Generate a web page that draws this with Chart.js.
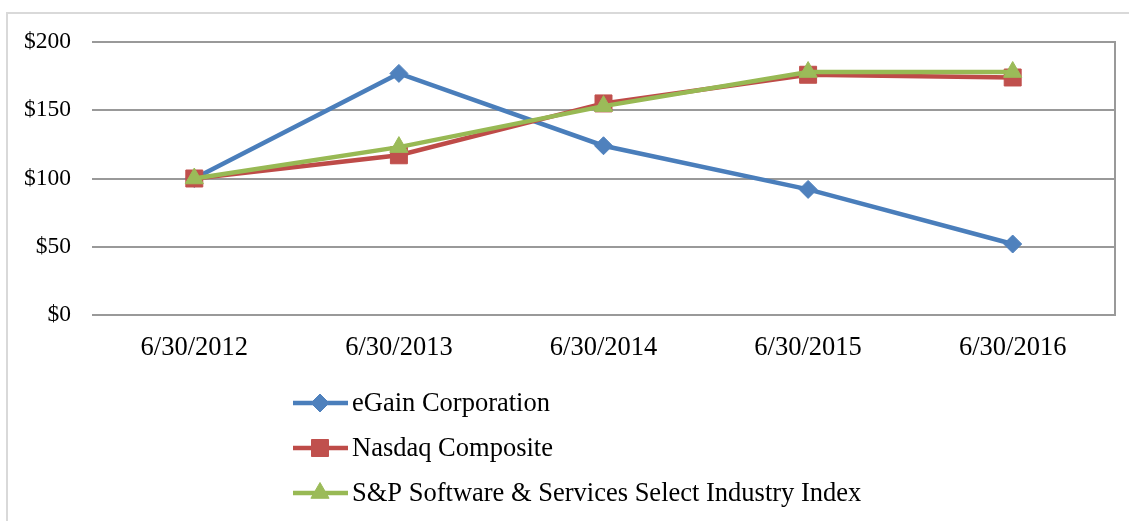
<!DOCTYPE html>
<html lang="en">
<head>
<meta charset="utf-8">
<title>eGain Corporation</title>
<script src="https://cdn.jsdelivr.net/npm/chart.js@4.4.1/dist/chart.umd.min.js"></script>
<style>
	html, body { margin: 0; padding: 0; background: #fff; overflow: hidden; }
	#cadre { position: absolute; left: 6px; top: 12px; width: 1200px; height: 600px; border-left: 2px solid #d9d9d9; border-top: 2px solid #d9d9d9; }
	#graphique { position: absolute; left: 0; top: 0; }
</style>
</head>
<body>
<div id="cadre"></div>
<canvas id="graphique" width="1129" height="521"></canvas>
<script>
const categories = ["6/30/2012", "6/30/2013", "6/30/2014", "6/30/2015", "6/30/2016"];
const egain = [100, 177, 124, 92, 52];
const nasdaq = [100, 117, 155, 176, 174];
const sp = [100, 123, 153, 178, 178];
const nomsSeries = ["eGain Corporation", "Nasdaq Composite", "S&P Software & Services Select Industry Index"];
const ticksY = [0, 50, 100, 150, 200];

const police = "'Liberation Serif', 'Times New Roman', serif";

// legende en colonne sous le graphique
const legendeVerticale = {
	id: "legendeVerticale",
	afterDraw(chart) {
		const ctx = chart.ctx;
		const zone = chart.chartArea;
		// bordure droite du trace
		ctx.save();
		ctx.strokeStyle = "#999999";
		ctx.lineWidth = 2;
		ctx.beginPath();
		ctx.moveTo(zone.right, zone.top - 1);
		ctx.lineTo(zone.right, zone.bottom + 1);
		ctx.stroke();
		ctx.restore();

		const x0 = zone.left + 201;
		const y0 = zone.bottom + 88;
		chart.data.datasets.forEach((ds, i) => {
			const y = y0 + i * 45;
			ctx.save();
			ctx.strokeStyle = ds.borderColor;
			ctx.lineWidth = ds.borderWidth;
			ctx.beginPath();
			ctx.moveTo(x0, y);
			ctx.lineTo(x0 + 55, y);
			ctx.stroke();
			ctx.fillStyle = ds.pointBackgroundColor;
			ctx.strokeStyle = ds.pointBorderColor;
			ctx.lineWidth = 1;
			Chart.helpers.drawPoint(ctx, { pointStyle: ds.pointStyle, radius: ds.pointRadius, borderWidth: 1, rotation: 0 }, x0 + 27, y);
			ctx.fillStyle = "#000";
			ctx.font = "26.5px " + police;
			ctx.textBaseline = "middle";
			ctx.textAlign = "left";
			ctx.fillText(ds.label, x0 + 59, y + 1);
			ctx.restore();
		});
	}
};

function serie(label, valeurs, couleurLigne, couleurPoint, forme, rayon, ordre) {
	return {
		label: label,
		data: valeurs,
		borderColor: couleurLigne,
		borderWidth: 4.5,
		pointStyle: forme,
		pointRadius: rayon,
		pointBackgroundColor: couleurPoint,
		pointBorderColor: couleurPoint,
		pointBorderWidth: 1,
		tension: 0,
		order: ordre,
	};
}

const data = {
	labels: categories,
	datasets: [
		serie(nomsSeries[0], egain, "#4a7ebb", "#4f81bd", "rectRot", 9, 3),
		serie(nomsSeries[1], nasdaq, "#be4b48", "#c0504d", "rect", 12, 2),
		serie(nomsSeries[2], sp, "#98b954", "#9bbb59", "triangle", 10.5, 1),
	],
};

const config = {
	type: "line",
	data: data,
	options: {
		responsive: false,
		animation: false,
		layout: {
			padding: { top: 42, right: 14, left: 7, bottom: 146 },
		},
		plugins: {
			legend: { display: false },
			tooltip: { enabled: false },
		},
		scales: {
			x: {
				offset: true,
				grid: { display: false },
				border: { display: false },
				ticks: {
					color: "#000",
					font: { family: police, size: 26.5 },
					padding: 9,
					maxRotation: 0,
				},
				afterFit: (scale) => { scale.height = 60; },
			},
			y: {
				min: 0,
				max: 200,
				afterBuildTicks: (scale) => {
					scale.ticks = ticksY.map((v) => ({ value: v }));
				},
				grid: { color: "#999999", lineWidth: 2, drawTicks: false },
				border: { display: false },
				ticks: {
					color: "#000",
					font: { family: police, size: 23.5 },
					padding: 21,
					callback: (v) => "$" + v,
				},
				afterFit: (scale) => { scale.width = 85; },
			},
		},
	},
	plugins: [legendeVerticale],
};

const graphique = new Chart(document.querySelector("#graphique"), config);
</script>
</body>
</html>
